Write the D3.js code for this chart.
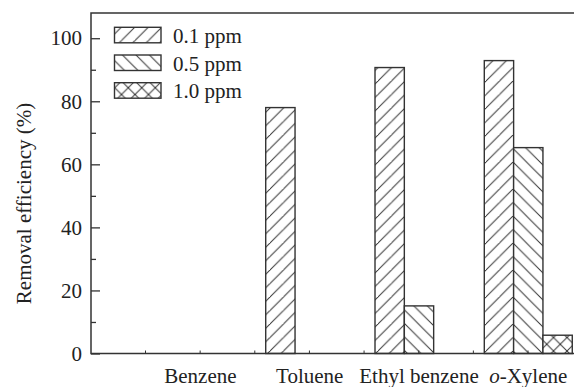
<!DOCTYPE html>
<html>
<head>
<meta charset="utf-8">
<script src="https://cdn.jsdelivr.net/npm/d3@7/dist/d3.min.js"></script>
<style>
  html, body { margin: 0; padding: 0; background: #fff; }
  svg { display: block; }
  text { font-family: "Liberation Serif", "DejaVu Serif", serif; fill: #222; }
</style>
</head>
<body>
<svg id="chart" width="574" height="387"></svg>
<script>
const categories = ["Benzene", "Toluene", "Ethyl benzene", "o-Xylene"];
const seriesNames = ["0.1 ppm", "0.5 ppm", "1.0 ppm"];
const values01 = [0, 78.0, 90.7, 92.9];
const values05 = [0, 0, 15.1, 65.3];
const values10 = [0, 0, 0, 5.8];
const yTicks = [0, 20, 40, 60, 80, 100];
const yMinorTicks = [10, 30, 50, 70, 90];

const seriesValues = [values01, values05, values10];
const patterns = ["hatchF", "hatchB", "hatchX"];

(function () {
const svg = d3.select("#chart");
const mLeft = 91, mTop = 13, mBottom = 353.5, mRight = 574;
const ink = "#333";
const fs = "21px";

// patterns
const defs = svg.append("defs");
function makePattern(id, dirs) {
  const p = defs.append("pattern").attr("id", id)
    .attr("patternUnits", "userSpaceOnUse").attr("width", 13.5).attr("height", 13.5);
  p.append("rect").attr("width", 13.5).attr("height", 13.5).attr("fill", "#fff");
  dirs.forEach(d => {
    if (d === "f") {
      p.append("path").attr("d", "M-1,14.5 L14.5,-1 M-8,8 L8,-8 M6,21.5 L21.5,6")
        .attr("stroke", ink).attr("stroke-width", 1);
    } else {
      p.append("path").attr("d", "M-1,-1 L14.5,14.5 M-8,5.5 L8,21.5 M5.5,-8 L21.5,8")
        .attr("stroke", ink).attr("stroke-width", 1);
    }
  });
}
makePattern("hatchF", ["f"]);
makePattern("hatchB", ["b"]);
makePattern("hatchX", ["f", "b"]);

const y = d3.scaleLinear().domain([0, 108]).range([mBottom, mTop]);
const x0 = d3.scaleBand().domain(categories).range([145.5, 583.2])
  .paddingInner(0.195).paddingOuter(0.1);
const x1 = d3.scaleBand().domain(seriesNames).range([0, x0.bandwidth()]);

// bars
const barData = [];
categories.forEach((c, i) => {
  seriesNames.forEach((s, j) => {
    barData.push({ cat: c, ser: s, v: seriesValues[j][i], pat: patterns[j] });
  });
});
svg.append("g").selectAll("rect").data(barData.filter(d => d.v > 0)).join("rect")
  .attr("x", d => x0(d.cat) + x1(d.ser))
  .attr("y", d => y(d.v))
  .attr("width", x1.bandwidth())
  .attr("height", d => y(0) - y(d.v))
  .attr("fill", d => `url(#${d.pat})`)
  .attr("stroke", ink).attr("stroke-width", 1.4);

// frame: left, top, bottom
svg.append("path")
  .attr("d", `M${mRight},${mTop} L${mLeft},${mTop} L${mLeft},${mBottom} L${mRight},${mBottom}`)
  .attr("fill", "none").attr("stroke", ink).attr("stroke-width", 1.5);

// y axis
const yAxis = d3.axisLeft(y).tickValues(yTicks).tickSizeInner(-9).tickSizeOuter(0).tickPadding(9);
const gy = svg.append("g").attr("transform", `translate(${mLeft},0)`).call(yAxis);
gy.select(".domain").remove();
gy.selectAll(".tick line").attr("stroke", ink).attr("stroke-width", 1.3);
gy.selectAll(".tick text").style("font-family", '"Liberation Serif", serif')
  .style("font-size", fs).attr("fill", "#222");

const yMinor = d3.axisLeft(y).tickValues(yMinorTicks).tickSizeInner(-5).tickSizeOuter(0).tickFormat("");
const gym = svg.append("g").attr("transform", `translate(${mLeft},0)`).call(yMinor);
gym.select(".domain").remove();
gym.selectAll(".tick line").attr("stroke", ink).attr("stroke-width", 1.3);

// x axis minor ticks at half-steps
const xTickPos = d3.range(8).map(k => x0.range()[0] + k * x0.step() / 2);
svg.append("g").selectAll("line").data(xTickPos).join("line")
  .attr("x1", d => d).attr("x2", d => d)
  .attr("y1", mBottom).attr("y2", mBottom - 3)
  .attr("stroke", ink).attr("stroke-width", 1);

// category labels
const xLab = svg.append("g");
categories.forEach(c => {
  const t = xLab.append("text")
    .attr("x", x0(c) + x0.bandwidth() / 2)
    .attr("y", 383)
    .attr("text-anchor", "middle")
    .style("font-size", fs);
  if (c.startsWith("o-")) {
    t.append("tspan").attr("font-style", "italic").text("o");
    t.append("tspan").text(c.slice(1));
  } else {
    t.text(c);
  }
});

// y title
svg.append("text")
  .attr("transform", `translate(31,${203.5}) rotate(-90)`)
  .attr("text-anchor", "middle")
  .style("font-size", fs)
  .text("Removal efficiency (%)");

// legend
const leg = svg.append("g");
seriesNames.forEach((s, j) => {
  const yy = 27.3 + j * 27.7;
  leg.append("rect").attr("x", 114.5).attr("y", yy).attr("width", 46.5).attr("height", 15.5)
    .attr("fill", `url(#${patterns[j]})`).attr("stroke", ink).attr("stroke-width", 1.4);
  leg.append("text").attr("x", 173).attr("y", yy + 15.5)
    .style("font-size", fs).text(s);
});
})();
</script>
</body>
</html>
